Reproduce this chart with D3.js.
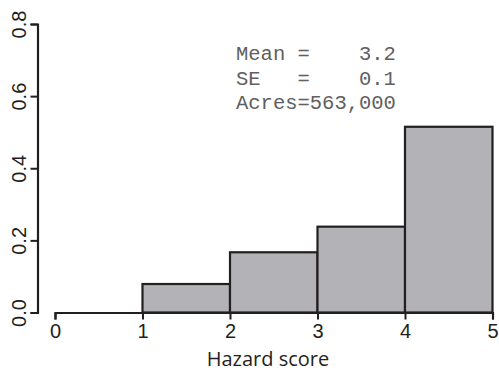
<!DOCTYPE html>
<html>
<head>
<meta charset="utf-8">
<script src="https://cdn.jsdelivr.net/npm/d3@7"></script>
<style>
  html, body { margin: 0; padding: 0; background: #fff; }
  svg { display: block; }
</style>
</head>
<body>
<svg id="chart" width="499" height="372"></svg>
<script>
// Data
const binStarts = [0, 1, 2, 3, 4];
const binEnds   = [1, 2, 3, 4, 5];
const proportions = [0.0, 0.079, 0.167, 0.238, 0.515];
const xTicks = [0, 1, 2, 3, 4, 5];
const yTicks = [0.0, 0.2, 0.4, 0.6, 0.8];
const yTickLabels = ["0.0", "0.2", "0.4", "0.6", "0.8"];
const xTitle = "Hazard score";
const statsLines = ["Mean =    3.2", "SE   =    0.1", "Acres=563,000"];

const svg = d3.select("#chart");
const ink = "#231f20";

const x = d3.scaleLinear().domain([0, 5]).range([55, 492.5]);
const y = d3.scaleLinear().domain([0, 0.8]).range([312.5, 24]);

// Bars
svg.append("g").selectAll("rect")
  .data(proportions)
  .join("rect")
  .attr("x", (d, i) => x(binStarts[i]))
  .attr("width", (d, i) => x(binEnds[i]) - x(binStarts[i]))
  .attr("y", d => y(d))
  .attr("height", d => y(0) - y(d))
  .attr("fill", "#b3b3b7")
  .attr("stroke", ink)
  .attr("stroke-width", 2.2);

// X axis
const xAxis = svg.append("g")
  .attr("transform", `translate(0,${y(0)})`)
  .call(d3.axisBottom(x).tickValues(xTicks).tickFormat(d3.format("d")).tickSizeOuter(0).tickSize(7).tickPadding(4));
xAxis.select(".domain").attr("stroke", ink).attr("stroke-width", 2.2);
xAxis.selectAll(".tick line").attr("stroke", ink).attr("stroke-width", 2);
xAxis.selectAll(".tick text")
  .attr("fill", ink)
  .style("font-family", "'Liberation Sans', Arial, sans-serif")
  .style("font-size", "20px");

// Y axis
const yAxis = svg.append("g")
  .attr("transform", "translate(37.5,0)")
  .call(d3.axisLeft(y).tickValues(yTicks).tickFormat((d, i) => yTickLabels[i]).tickSizeOuter(0).tickSize(7));
yAxis.select(".domain").attr("stroke", ink).attr("stroke-width", 2.2);
yAxis.selectAll(".tick line").attr("stroke", ink).attr("stroke-width", 2);
yAxis.selectAll(".tick text")
  .attr("fill", ink)
  .attr("x", null).attr("dy", null)
  .attr("text-anchor", "middle")
  .attr("transform", "translate(-12,0) rotate(-90)")
  .style("font-family", "'Liberation Sans', Arial, sans-serif")
  .style("font-size", "20px");

// X title
svg.append("text")
  .attr("x", 268)
  .attr("y", 366)
  .attr("text-anchor", "middle")
  .attr("fill", ink)
  .style("font-family", "'Open Sans', 'Noto Sans', sans-serif")
  .style("font-size", "20px")
  .text(xTitle);

// Stats annotation
svg.append("g").selectAll("text")
  .data(statsLines)
  .join("text")
  .attr("x", 236)
  .attr("y", (d, i) => 60 + i * 24.5)
  .attr("fill", "#606060")
  .attr("xml:space", "preserve")
  .style("white-space", "pre")
  .style("font-family", "'Liberation Mono', 'Courier New', monospace")
  .style("font-size", "20.5px")
  .text(d => d);
</script>
</body>
</html>
